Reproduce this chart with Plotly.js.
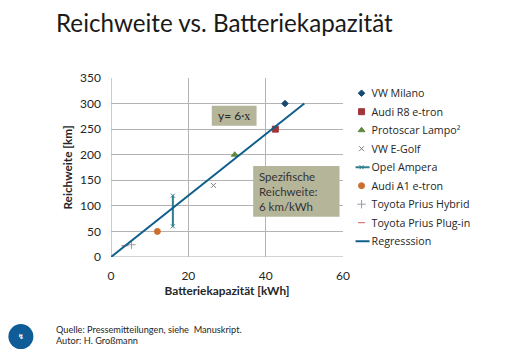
<!DOCTYPE html>
<html><head><meta charset="utf-8">
<script src="https://cdn.plot.ly/plotly-3.0.1.min.js"></script>
<style>html,body{margin:0;padding:0;background:#fff}#c{width:506px;height:354px}</style>
</head><body><div id="c"></div>
<script>
const FONT = 'Lato, "Open Sans", sans-serif';
const seriesNames = ['VW Milano','Audi R8 e-tron','Protoscar Lampo²','VW E-Golf','Opel Ampera','Audi A1 e-tron','Toyota Prius Hybrid','Toyota Prius Plug-in','Regresssion'];
const xValues = [[45],[42.5],[32],[26.5],[16,16],[12],[5.3],[3.6],[0,50]];
const yValues = [[300],[250],[200],[140],[60,120],[50],[24],[22],[0,300]];
const modes = ['markers','markers','markers','markers','lines+markers','markers','markers','markers','lines'];
const symbols = ['diamond','square','triangle-up','x-thin-open','x-thin-open','circle','cross-thin-open','line-ew-open','circle'];
const sizes = [5,6,6,5,4,6,6,5,1];
const colors = ['#17486f','#a0363a','#5f8a42','#7f7f8a','#2f7e8e','#cc6f2c','#9a9aa8','#c8605f','#0f5f8c'];
const lineWidths = [0,0,0,0,2,0,0,0,2];
const xTicks = [0,20,40,60];
const yTicks = [0,50,100,150,200,250,300,350];
const traces = seriesNames.map((n,i)=>({
  type:'scatter',name:n,x:xValues[i],y:yValues[i],mode:modes[i],cliponaxis:false,
  line:{color:colors[i],width:lineWidths[i]},
  marker:{symbol:symbols[i],size:sizes[i],color:colors[i],line:{color:colors[i],width:1}}
}));
const px = p => (p-110.5)/233, py = p => (256.7-p)/178.4;
const box = (x0,x1,y0,y1)=>({type:'rect',xref:'paper',yref:'paper',x0:px(x0),x1:px(x1),y0:py(y1),y1:py(y0),fillcolor:'#b5b59a',line:{width:0},layer:'above'});
const layout = {
  width:506,height:354,paper_bgcolor:'#fff',plot_bgcolor:'#fff',
  margin:{l:110.5,r:162.5,t:78.3,b:97.3,pad:0},
  font:{family:FONT,color:'#262626',size:11},
  title:{text:'Reichweite vs. Batteriekapazität',font:{family:FONT,size:24.2,color:'#1a1a1a'},x:56/506,xanchor:'left',y:1-24/354,yanchor:'middle'},
  xaxis:{range:[0,60],tickvals:xTicks,showgrid:true,gridcolor:'#b3b3b3',gridwidth:1.2,zeroline:false,showline:false,ticks:'',ticklabelstandoff:10,
    tickfont:{size:12,family:FONT,color:'#262626'},automargin:false,
    title:{text:'<b>Batteriekapazität [kWh]</b>',font:{size:11.8,family:FONT,color:'#262626'},standoff:2}},
  yaxis:{range:[0,350],tickvals:yTicks,showgrid:true,gridcolor:'#b3b3b3',gridwidth:1.2,zeroline:false,showline:false,ticks:'',ticklabelstandoff:9,
    tickfont:{size:12,family:FONT,color:'#262626'},automargin:false,
    title:{text:'<b>Reichweite [km]</b>',font:{size:11.8,family:FONT,color:'#262626'},standoff:4}},
  legend:{x:px(332),xanchor:'left',y:py(79),yanchor:'top',font:{size:10.7,family:'"Open Sans",sans-serif',color:'#262626'},bgcolor:'rgba(0,0,0,0)',itemwidth:30,tracegroupgap:0},
  shapes:[
    {type:'line',xref:'x',yref:'y',x0:0,x1:0,y0:0,y1:350,line:{color:'#a8a8a8',width:1.2},layer:'below'},
    {type:'line',xref:'x',yref:'y',x0:0,x1:60,y0:0,y1:0,line:{color:'#a8a8a8',width:1.2},layer:'below'},
    box(211.7,256.7,106,126),
    box(253.3,340,166,216.7),
    {type:'circle',xref:'paper',yref:'paper',xsizemode:'pixel',ysizemode:'pixel',xanchor:px(20),yanchor:py(336),x0:-12.5,x1:12.5,y0:-12.5,y1:12.5,fillcolor:'#0f5c96',line:{width:0}}
  ],
  annotations:[
    {xref:'paper',yref:'paper',x:px(234.2),y:py(116),xanchor:'center',yanchor:'middle',text:'y= 6·<span style="font-family:Liberation Serif">x</span>',showarrow:false,font:{size:12,color:'#262626',family:FONT}},
    {xref:'paper',yref:'paper',x:px(257),y:py(191.5),xanchor:'left',yanchor:'middle',text:'Spezifische<br>Reichweite:<br>6 km/kWh',showarrow:false,font:{size:11.5,color:'#333',family:FONT},align:'left'},
    {xref:'paper',yref:'paper',x:px(53),y:py(329),xanchor:'left',yanchor:'middle',showarrow:false,text:'Quelle: Pressemitteilungen, siehe  Manuskript.',font:{size:9.2,color:'#262626',family:FONT}},
    {xref:'paper',yref:'paper',x:px(53),y:py(340),xanchor:'left',yanchor:'middle',showarrow:false,text:'Autor: H. Großmann',font:{size:9.2,color:'#262626',family:FONT}},
    {xref:'paper',yref:'paper',x:px(20),y:py(336),xanchor:'center',yanchor:'middle',showarrow:false,text:'<b>↯</b>',font:{size:7,color:'#fff',family:'DejaVu Sans'}}
  ]
};
Plotly.newPlot('c',traces,layout,{staticPlot:true,displayModeBar:false}).then(gd=>{
  // The library's legend keys are 30px wide and rows at least 19px tall; the reference uses a short key and tighter rows.
  gd.querySelectorAll('.legend .legendlines path').forEach(p=>p.setAttribute('d','M24,0h14'));
  gd.querySelectorAll('.legend .legendpoints path').forEach(p=>p.setAttribute('transform','translate(30,0)'));
  const rows = gd.querySelectorAll('.legend .traces');
  const first = rows.length ? parseFloat((rows[0].getAttribute('transform')||'').split(',')[1]) : 0;
  rows.forEach((r,i)=>r.setAttribute('transform','translate(0,'+(first+i*18.5)+')'));
});
</script></body></html>
